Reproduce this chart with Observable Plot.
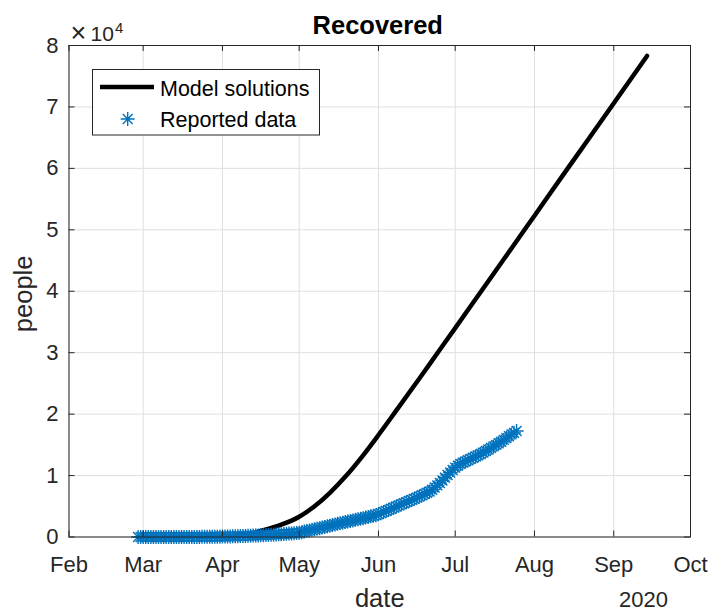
<!DOCTYPE html>
<html>
<head>
<meta charset="utf-8">
<script src="https://cdn.jsdelivr.net/npm/d3@7"></script>
<script src="https://cdn.jsdelivr.net/npm/@observablehq/plot@0.6"></script>
<style>
  html, body { margin: 0; padding: 0; background: #fff; }
</style>
</head>
<body>
<div id="chart"></div>
<script>
// ---- data ----
const title = "Recovered";
const xLabel = "date";
const yLabel = "people";
const yearLabel = "2020";
const seriesNames = ["Model solutions", "Reported data"];

const modelDates = ["2020-02-28","2020-03-15","2020-04-01","2020-04-10","2020-04-17","2020-04-24",
  "2020-05-01","2020-05-07","2020-05-13","2020-05-19","2020-05-26","2020-06-01","2020-06-08",
  "2020-06-17","2020-06-24","2020-07-01","2020-07-12","2020-07-20","2020-08-01","2020-08-14",
  "2020-08-22","2020-09-01","2020-09-14"];
const modelValues = [0, 0, 80, 400, 1100, 2000,
  3300, 5000, 7200, 9800, 13300, 16600, 20600,
  25800, 29900, 34000, 40500, 45200, 52300, 60000,
  64700, 70600, 78300];

const reportedStart = "2020-02-28";
const reportedValues = [
  0, 0,
  0,0,0,0,0,0,0,0,0,0, 1,1,2,2,3,4,5,6,8,10, 12,15,18,22,26,30,35,40,46,52,60,
  70,80,90,100,110,120,135,150,165,180, 195,210,225,240,260,280,300,320,340,360, 385,410,435,460,490,520,550,580,610,650,
  700,790,880,980,1070,1160,1250,1350,1440,1540, 1640,1740,1850,1950,2050,2140,2240,2330,2430,2520, 2610,2700,2800,2890,2980,3070,3170,3260,3360,3460, 3560,
  3700,3880,4060,4240,4420,4600,4780,4960,5140,5320, 5500,5680,5860,6040,6220,6400,6600,6800,7000,7200, 7400,7700,8050,8400,8800,9200,9650,10100,10500,10900,
  11300,11600,11900,12100,12300,12500,12700,12900,13100,13300, 13500,13750,14000,14250,14500,14750,15000,15250,15500,15800, 16100,16400,16700,16950,17250
];

const xTickDates = ["2020-02-01","2020-03-01","2020-04-01","2020-05-01","2020-06-01","2020-07-01","2020-08-01","2020-09-01","2020-10-01"];
const xTickLabels = ["Feb","Mar","Apr","May","Jun","Jul","Aug","Sep","Oct"];
const yTicks = [0, 10000, 20000, 30000, 40000, 50000, 60000, 70000, 80000];
const yTickLabels = ["0","1","2","3","4","5","6","7","8"];
const yExponent = "4";

// ---- tables ----
const model = modelDates.map((d, i) => ({date: new Date(d), value: modelValues[i]}));
const reported = reportedValues.map((v, i) => ({date: d3.utcDay.offset(new Date(reportedStart), i), value: v}));
const monthTicks = xTickDates.map(d => new Date(d));

// ---- layout / style ----
const W = 712, H = 610, mL = 68.5, mR = 22, mT = 45, mB = 73.5;
const innerW = W - mL - mR, innerH = H - mT - mB;
const tk = 6;
const font = "'Liberation Sans', Arial, Helvetica, sans-serif";
const axisColor = "#262626";
const gridColor = "#dfdfdf";
const blue = "#0072BD";
const starR = 7;
const starW = 1.4;

const asterisk = {
  draw(context, size) {
    const r = Math.sqrt(size / Math.PI);
    const d = r * Math.SQRT1_2;
    context.moveTo(-r, 0); context.lineTo(r, 0);
    context.moveTo(0, -r); context.lineTo(0, r);
    context.moveTo(-d, -d); context.lineTo(d, d);
    context.moveTo(-d, d); context.lineTo(d, -d);
  }
};

const xFmt = d => xTickLabels[monthTicks.findIndex(t => +t === +d)];
const yFmt = v => yTickLabels[yTicks.indexOf(v)];

const chart = Plot.plot({
  width: W, height: H,
  marginLeft: mL, marginRight: mR, marginTop: mT, marginBottom: mB,
  style: {fontFamily: font, fontSize: "22px", color: axisColor, background: "white", overflow: "visible"},
  x: {type: "utc", domain: [monthTicks[0], monthTicks[monthTicks.length - 1]]},
  y: {domain: [0, 80000]},
  marks: [
    Plot.gridX(monthTicks, {stroke: gridColor, strokeOpacity: 1}),
    Plot.gridY(yTicks, {stroke: gridColor, strokeOpacity: 1}),
    Plot.line(model, {x: "date", y: "value", stroke: "black", strokeWidth: 4.5, curve: "monotone-x"}),
    Plot.dot(reported, {x: "date", y: "value", symbol: asterisk, r: starR, stroke: blue, strokeWidth: starW, fill: "none"}),
    Plot.tickX(monthTicks, {x: d => d, insetTop: innerH - tk, stroke: axisColor}),
    Plot.tickX(monthTicks, {x: d => d, insetBottom: innerH - tk, stroke: axisColor}),
    Plot.tickY(yTicks, {y: d => d, insetRight: innerW - tk, stroke: axisColor}),
    Plot.tickY(yTicks, {y: d => d, insetLeft: innerW - tk, stroke: axisColor}),
    Plot.frame({stroke: axisColor}),
    Plot.axisX(monthTicks, {tickSize: 0, tickPadding: 19, tickFormat: xFmt, label: null, fontSize: 22}),
    Plot.axisY(yTicks, {tickSize: 0, tickPadding: 10.5, tickFormat: yFmt, label: null, fontSize: 22}),
    Plot.text([yLabel], {text: d => d, frameAnchor: "left", rotate: -90, dx: -37, dy: 2.6, fontSize: 25.5, textAnchor: "middle", lineAnchor: "bottom"}),
    Plot.text([xLabel], {text: d => d, frameAnchor: "bottom", dy: 69.5, fontSize: 25.5, textAnchor: "middle", lineAnchor: "bottom"}),
    Plot.text([yearLabel], {text: d => d, frameAnchor: "bottom-right", dx: -47, dy: 69.5, fontSize: 22, textAnchor: "middle", lineAnchor: "bottom"}),
    Plot.text([title], {text: d => d, frameAnchor: "top", dx: -2, dy: -11.7, fontSize: 25.5, fontWeight: "bold", fill: "#000", textAnchor: "middle", lineAnchor: "bottom"}),
    Plot.text(["×"], {text: d => d, frameAnchor: "top-left", dx: 1.5, dy: -4, fontSize: 27, textAnchor: "start", lineAnchor: "bottom"}),
    Plot.text(["10"], {text: d => d, frameAnchor: "top-left", dx: 21.5, dy: -5, fontSize: 21, textAnchor: "start", lineAnchor: "bottom"}),
    Plot.text([yExponent], {text: d => d, frameAnchor: "top-left", dx: 46, dy: -13, fontSize: 15, textAnchor: "start", lineAnchor: "bottom"})
  ]
});

// ---- legend inside the axes ----
const svg = d3.select(chart);
const lg = svg.append("g").attr("font-family", font).attr("font-size", 21.5)
  .attr("fill", "#000").attr("text-anchor", "start");
lg.append("rect").attr("x", 92.5).attr("y", 69.5).attr("width", 227).attr("height", 65.5)
  .attr("fill", "white").attr("stroke", axisColor).attr("stroke-width", 1);
lg.append("line").attr("x1", 100).attr("x2", 154).attr("y1", 87).attr("y2", 87)
  .attr("stroke", "black").attr("stroke-width", 4.5);
lg.append("path").attr("transform", "translate(127.7,119)")
  .attr("d", d3.symbol(asterisk, Math.PI * starR * starR)())
  .attr("stroke", blue).attr("stroke-width", starW).attr("fill", "none");
lg.append("text").attr("x", 160).attr("y", 96).text(seriesNames[0]);
lg.append("text").attr("x", 160).attr("y", 127.3).text(seriesNames[1]);

document.getElementById("chart").appendChild(chart);
</script>
</body>
</html>
